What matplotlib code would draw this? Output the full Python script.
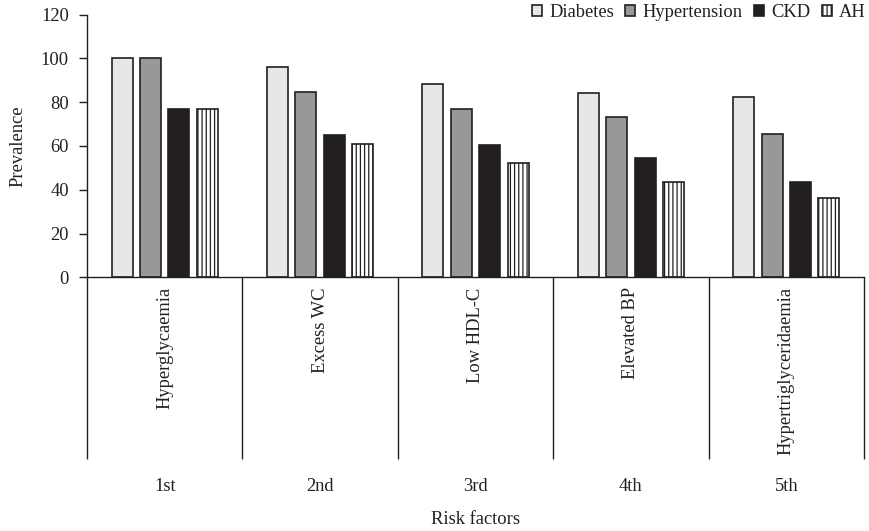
import numpy as np
import matplotlib
matplotlib.use('Agg')
import matplotlib.pyplot as plt
from matplotlib.patches import Patch
from matplotlib.font_manager import FontProperties

plt.rcParams['font.family'] = 'serif'
plt.rcParams['font.serif'] = ['Liberation Serif', 'DejaVu Serif']
plt.rcParams['hatch.linewidth'] = 0.9
plt.rcParams['hatch.color'] = '#231f20'

ranks = ['1st', '2nd', '3rd', '4th', '5th']
factors = ['Hyperglycaemia', 'Excess WC', 'Low HDL-C', 'Elevated BP', 'Hypertriglyceridaemia']
series = ['Diabetes', 'Hypertension', 'CKD', 'AH']
diabetes = [100, 96.0, 88.4, 84.2, 82.2]
hypertension = [100, 84.8, 77.0, 73.4, 65.4]
ckd = [76.7, 64.9, 60.3, 54.7, 43.6]
ah = [76.7, 61.1, 52.1, 43.4, 36.1]

values = [diabetes, hypertension, ckd, ah]
colors = ['#e6e7e9', '#97989a', '#231f20', 'white']
hatches = [None, None, None, '||||']
edge = '#231f20'
fs = 13.3
serif = FontProperties(family='Liberation Serif', size=fs)

fig = plt.figure(figsize=(8.69, 5.31), dpi=100)
ax = fig.add_axes([0.1001, 0.4778, 0.8941, 0.4945])

x = np.arange(len(ranks)) + 0.5
w = 0.135
step = 0.183
for i, vals in enumerate(values):
    ax.bar(x + (i - 1.5) * step, vals, w, color=colors[i], edgecolor=edge,
           linewidth=1.2, hatch=hatches[i], label=series[i], zorder=2)

ax.set_xlim(0, len(ranks))
ax.set_ylim(0, 120)
ax.set_yticks(np.arange(0, 121, 20))
ax.tick_params(axis='y', length=6, width=1.0, pad=7, labelsize=fs, colors='#231f20')
ax.set_xticks([])
for s in ['top', 'right']:
    ax.spines[s].set_visible(False)
for s in ['left', 'bottom']:
    ax.spines[s].set_linewidth(1.0)
    ax.spines[s].set_color('#231f20')

# multi-level category axis below the plot
ax.vlines(np.arange(len(ranks) + 1), -83, 0, colors='#231f20', linewidth=1.0, clip_on=False)
for i in range(len(ranks)):
    ax.text(x[i], -4.6, factors[i], rotation=90, ha='center', va='top', fontproperties=serif, color='#231f20')
    ax.text(x[i], -95.8, ranks[i], ha='center', va='center', fontproperties=serif, color='#231f20')
ax.text(len(ranks) / 2, -110.5, 'Risk factors', ha='center', va='center', fontproperties=serif, color='#231f20')

ax.set_ylabel('Prevalence', fontproperties=serif, color='#231f20')
ax.yaxis.set_label_coords(-0.078, 0.5)

leg = ax.legend(loc='center right', bbox_to_anchor=(0.9965, 0.977),
                bbox_transform=fig.transFigure, ncol=4, frameon=False, prop=serif,
                handlelength=0.55, handleheight=0.55, handletextpad=0.4, columnspacing=0.6,
                borderpad=0, borderaxespad=0)
for t in leg.get_texts():
    t.set_color('#231f20')

fig.savefig('out.png', dpi=100)
